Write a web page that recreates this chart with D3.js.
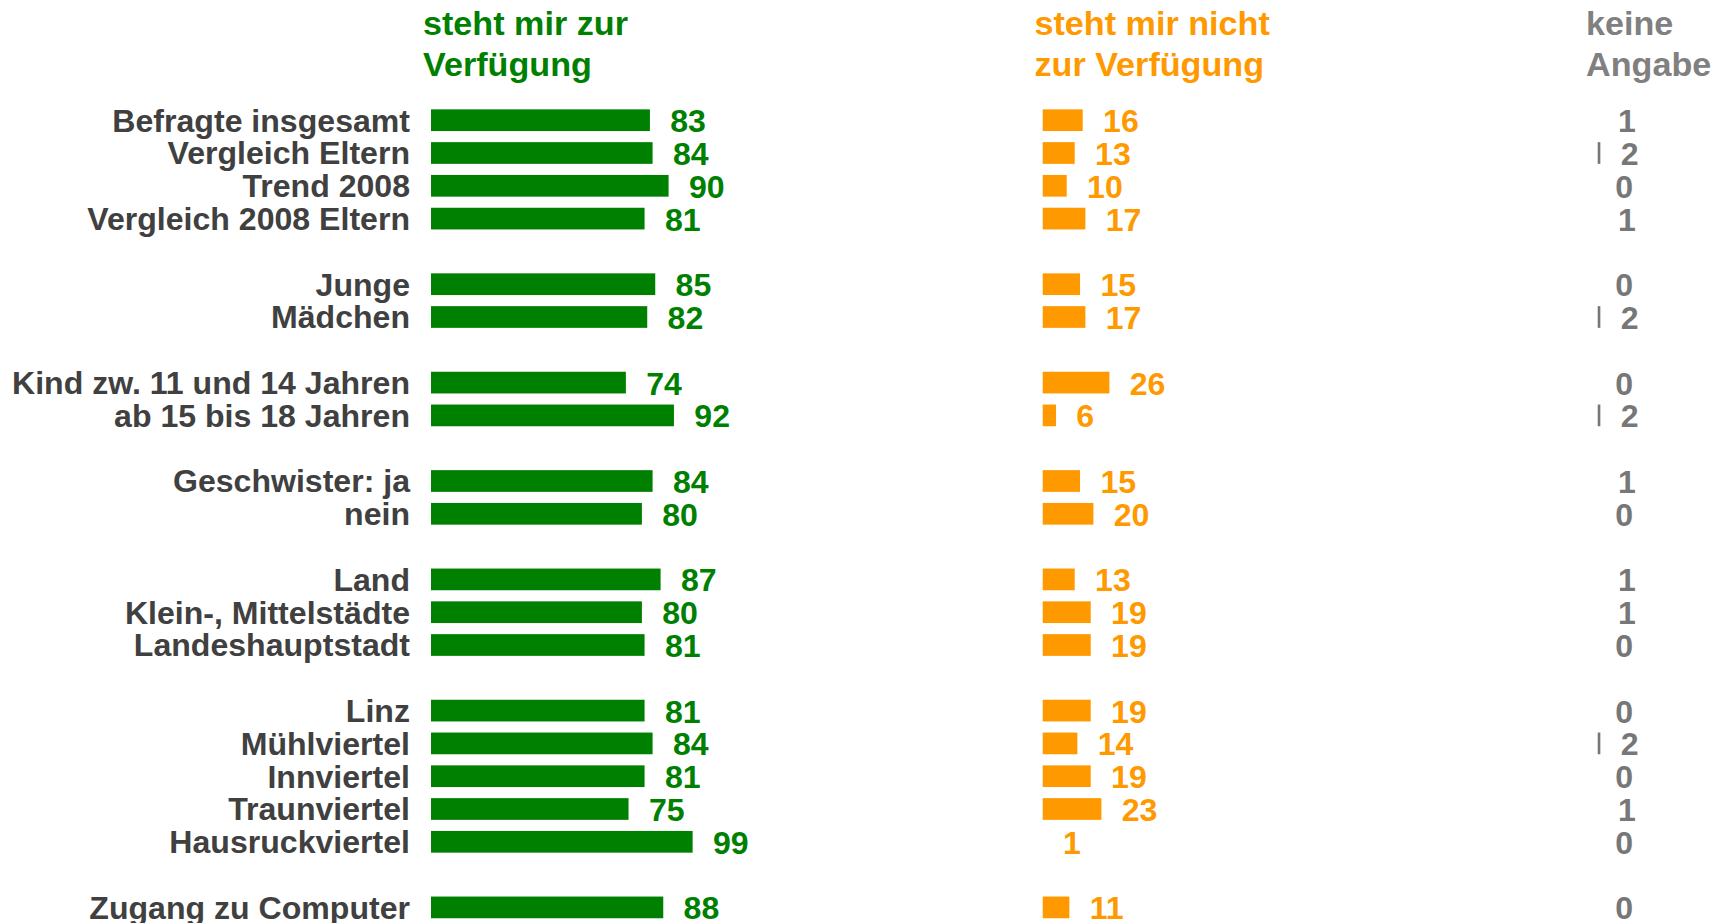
<!DOCTYPE html>
<html>
<head>
<meta charset="utf-8">
<script src="https://cdn.jsdelivr.net/npm/d3@7"></script>
<style>
  html, body { margin: 0; padding: 0; background: #fff; }
  svg { display: block; }
  text { font-family: "Liberation Sans", Arial, sans-serif; font-weight: bold; }
</style>
</head>
<body>
<svg id="chart" width="1713" height="923"></svg>
<script>
// ---- data ----
const categories = [
  "Befragte insgesamt", "Vergleich Eltern", "Trend 2008", "Vergleich 2008 Eltern",
  "Junge", "Mädchen",
  "Kind zw. 11 und 14 Jahren", "ab 15 bis 18 Jahren",
  "Geschwister: ja", "nein",
  "Land", "Klein-, Mittelstädte", "Landeshauptstadt",
  "Linz", "Mühlviertel", "Innviertel", "Traunviertel", "Hausruckviertel",
  "Zugang zu Computer"
];
const groups = [0,0,0,0, 1,1, 2,2, 3,3, 4,4,4, 5,5,5,5,5, 6];
const verfuegbar      = [83,84,90,81, 85,82, 74,92, 84,80, 87,80,81, 81,84,81,75,99, 88];
const nichtVerfuegbar = [16,13,10,17, 15,17, 26,6, 15,20, 13,19,19, 19,14,19,23,1, 11];
const keineAngabe     = [1,2,0,1, 0,2, 0,2, 1,0, 1,1,0, 0,2,0,1,0, 0];
const seriesNames = [["steht mir zur", "Verfügung"], ["steht mir nicht", "zur Verfügung"], ["keine", "Angabe"]];

// ---- layout ----
const svg = d3.select("#chart");
const stretch = 1.035;

// band domain including spacer rows between groups
const domain = [];
categories.forEach((c, i) => {
  if (i > 0 && groups[i] !== groups[i - 1]) domain.push("__gap" + i);
  domain.push(c);
});
const step = 32.8;
const y = d3.scaleBand()
  .domain(domain)
  .range([120.2 - step / 2, 120.2 - step / 2 + step * domain.length])
  .paddingInner(0.256)
  .paddingOuter(0.128);

const x = d3.scaleLinear().domain([0, 100]).range([0, 267]);

const columns = [
  { name: seriesNames[0], values: verfuegbar,      x0: 429.65,  color: "#008000", labelColor: "#008000", titleX: 423,    titleColor: "#008000" },
  { name: seriesNames[1], values: nichtVerfuegbar, x0: 1041.35, color: "#FF9900", labelColor: "#FF9900", titleX: 1034.5, titleColor: "#FF9900" },
  { name: seriesNames[2], values: keineAngabe,     x0: 1596.35, color: "#777777", labelColor: "#777777", titleX: 1586,   titleColor: "#808080" }
];

const labelOffset = 19;

// category labels
svg.append("g").selectAll("text")
  .data(categories)
  .join("text")
  .attr("transform", d => `translate(410,${y(d) + y.bandwidth() / 2}) scale(${stretch},1)`)
  .attr("dy", "0.37em")
  .attr("text-anchor", "end")
  .attr("font-size", 31)
  .attr("fill", "#404040")
  .text(d => d);

columns.forEach(col => {
  const g = svg.append("g");
  // column title
  const t = g.append("text")
    .attr("transform", `translate(${col.titleX},0) scale(${stretch},1)`)
    .attr("font-size", 33)
    .attr("fill", col.titleColor);
  t.append("tspan").attr("x", 0).attr("y", 35).text(col.name[0]);
  t.append("tspan").attr("x", 0).attr("y", 76).text(col.name[1]);

  // bars
  g.selectAll("rect")
    .data(col.values)
    .join("rect")
    .attr("x", col.x0)
    .attr("y", (d, i) => y(categories[i]))
    .attr("width", d => x(d))
    .attr("height", y.bandwidth())
    .attr("fill", col.color)
    .attr("stroke", "#ffffff")
    .attr("stroke-width", 2.7);

  // value labels
  g.selectAll("text.val")
    .data(col.values)
    .join("text")
    .attr("class", "val")
    .attr("transform", (d, i) => `translate(${col.x0 + x(d) + labelOffset},${y(categories[i]) + y.bandwidth() / 2}) scale(${stretch},1)`)
    .attr("dy", "0.39em")
    .attr("font-size", 31)
    .attr("fill", col.labelColor)
    .text(d => d);
});
</script>
</body>
</html>
